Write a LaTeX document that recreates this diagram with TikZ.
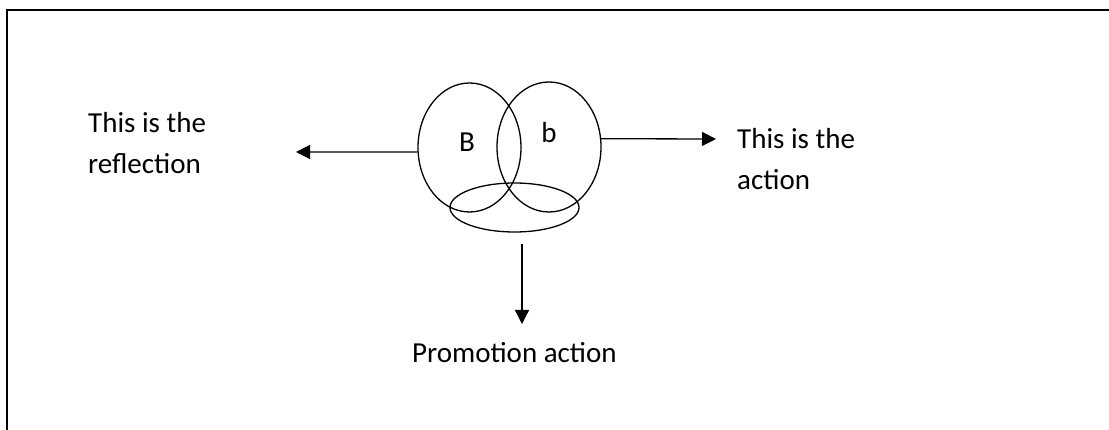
\documentclass[tikz,border=0pt]{standalone}
\usepackage{fontspec}
\setmainfont{Carlito}
\usetikzlibrary{arrows.meta,shapes.geometric}

\tikzset{
  frameline/.style={line width=2.2pt, line cap=rect},
  ring/.style={draw, ellipse, line width=1.3pt, inner sep=0pt},
  arr/.style={line width=1.3pt, -{Triangle[length=14pt,width=14pt]}},
  lbl/.style={inner sep=0pt, font=\fontsize{29}{41}\selectfont},
}

\begin{document}
\begin{tikzpicture}[x=1pt,y=1pt]
  \useasboundingbox (0,0) rectangle (1109,430);

  % page frame: left and top edges
  \draw[frameline] (7,0) -- (7,420) -- (1109,420);

  % three overlapping rings
  \node[ring, minimum width=103pt, minimum height=129pt] (L) at (469.5,282.5) {};
  \node[ring, minimum width=104pt, minimum height=130pt] (R) at (549,283) {};
  \node[ring, minimum width=129pt, minimum height=49pt]  (P) at (514.5,222.5) {};

  \node[lbl] (Bbig)   at (467,288) {B};
  \node[lbl] (bsmall) at (549,297) {b};

  % arrow ends
  \coordinate (reflTip) at (296,278);
  \coordinate (actTip)  at (716,291);
  \coordinate (promoStart) at (522,186);
  \coordinate (promoTip)   at (522,106);

  \draw[arr] (L.185) -- (reflTip);
  \draw[arr] (R.9) -- (actTip);
  \draw[arr] (promoStart) -- (promoTip);

  % captions
  \node[lbl, anchor=base west] (refl1) at (88,297) {This is the};
  \node[lbl, anchor=base west] (refl2) at (88,256) {reflection};
  \node[lbl, anchor=base west] (act1)  at (737,281) {This is the};
  \node[lbl, anchor=base west] (act2)  at (737,240) {action};
  \node[lbl, anchor=base west] (promo) at (412,67)  {Promotion action};
\end{tikzpicture}
\end{document}
